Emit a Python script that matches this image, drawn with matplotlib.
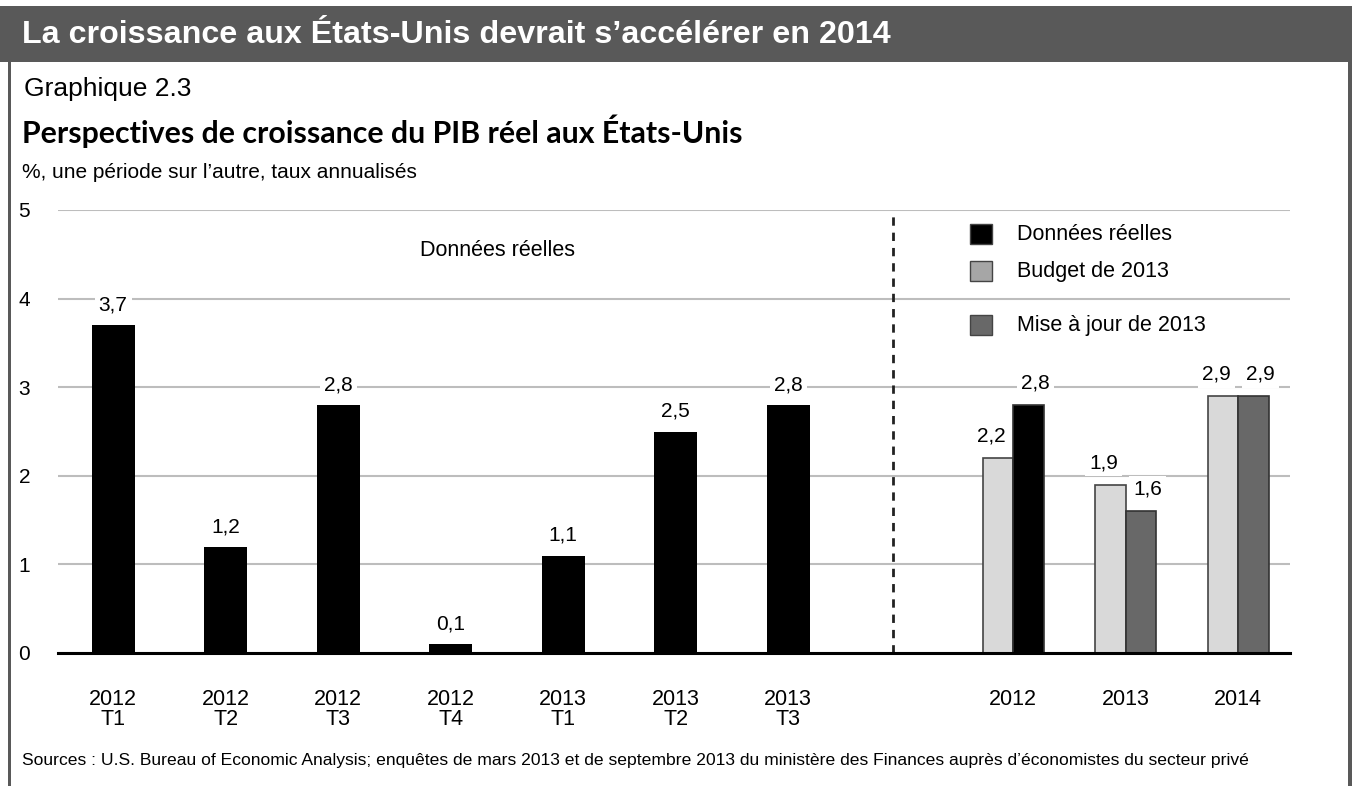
import matplotlib
matplotlib.use("Agg")
import matplotlib.pyplot as plt
from matplotlib.patches import Rectangle
import numpy as np

# data
quarters = ["2012\nT1", "2012\nT2", "2012\nT3", "2012\nT4", "2013\nT1", "2013\nT2", "2013\nT3"]
quarter_values = [3.7, 1.2, 2.8, 0.1, 1.1, 2.5, 2.8]
quarter_labels = ["3,7", "1,2", "2,8", "0,1", "1,1", "2,5", "2,8"]

years = ["2012", "2013", "2014"]
budget_values = [2.2, 1.9, 2.9]
budget_labels = ["2,2", "1,9", "2,9"]
second_values = [2.8, 1.6, 2.9]    # 2012 = real data, 2013/2014 = update
second_labels = ["2,8", "1,6", "2,9"]
second_is_real = [True, False, False]

legend_labels = ["Données réelles", "Budget de 2013", "Mise à jour de 2013"]

FONT = ["Liberation Sans", "DejaVu Sans"]
plt.rcParams["font.family"] = FONT

BLACK = "#000000"
LIGHT = "#d9d9d9"
DARK = "#686868"
BAND = "#595959"

fig = plt.figure(figsize=(13.52, 7.86), dpi=100)
W, H = 1352.0, 786.0

# frame: header band and side borders
fig.patches.append(Rectangle((0, 1 - 62 / H), 1, 56 / H, transform=fig.transFigure,
                             facecolor=BAND, edgecolor="none"))
fig.patches.append(Rectangle((8 / W, 0), 3 / W, 1 - 6 / H, transform=fig.transFigure,
                             facecolor=BAND, edgecolor="none"))
fig.patches.append(Rectangle((1348 / W, 0), 4 / W, 1 - 6 / H, transform=fig.transFigure,
                             facecolor=BAND, edgecolor="none"))

fig.text(22 / W, 1 - 35 / H, "La croissance aux États-Unis devrait s’accélérer en 2014",
         color="white", fontsize=23.2, fontweight="bold", va="center", ha="left")
fig.text(24 / W, 1 - 89 / H, "Graphique 2.3", fontsize=19, va="center", ha="left")
fig.text(22 / W, 1 - 131 / H, "Perspectives de croissance du PIB réel aux États-Unis",
         fontsize=21.8, fontweight="bold", va="center", ha="left",
         family=["Lato", "DejaVu Sans"])
fig.text(22 / W, 1 - 172 / H, "%, une période sur l’autre, taux annualisés",
         fontsize=15, va="center", ha="left")
fig.text(22 / W, 1 - 761 / H,
         "Sources : U.S. Bureau of Economic Analysis; enquêtes de mars 2013 et de septembre 2013 "
         "du ministère des Finances auprès d’économistes du secteur privé",
         fontsize=12.6, va="center", ha="left")

ax = fig.add_axes([58 / W, 1 - 653 / H, 1232 / W, 443 / H])

xq = np.arange(len(quarters))
xa = np.arange(len(years)) + len(quarters) + 1
qw = 0.38
aw = 0.27

ax.bar(xq, quarter_values, width=qw, color=BLACK, zorder=3)
ax.bar(xa - aw / 2, budget_values, width=aw, color=LIGHT, edgecolor="#444444",
       linewidth=1.2, zorder=3)
second_colors = [BLACK if r else DARK for r in second_is_real]
ax.bar(xa + aw / 2, second_values, width=aw, color=second_colors, edgecolor="#333333",
       linewidth=1.2, zorder=3)

lbl = dict(ha="center", va="bottom", fontsize=15, zorder=4,
           bbox=dict(facecolor="white", edgecolor="none", pad=3))
for x, v, s in zip(xq, quarter_values, quarter_labels):
    ax.text(x, v + 0.12, s, **lbl)
for x, v, s in zip(xa - aw / 2, budget_values, budget_labels):
    ax.text(x - 0.06, v + 0.14, s, **lbl)
for x, v, s in zip(xa + aw / 2, second_values, second_labels):
    ax.text(x + 0.06, v + 0.14, s, **lbl)

ax.text(3.42, 4.54, "Données réelles", ha="center", va="center", fontsize=15.5)

# separator between quarterly and annual data
ax.axvline(len(quarters) - 0.07, color="#222222", linestyle=(0, (3, 2.5)),
           linewidth=2, zorder=2)

ax.set_xlim(-0.49, xa[-1] + 0.46)
ax.set_ylim(0, 5)
ax.set_yticks([0, 1, 2, 3, 4, 5])
ax.set_yticklabels(["0", "1", "2", "3", "4", "5"], fontsize=15)
ax.set_xticks(list(xq) + list(xa))
ax.set_xticklabels(quarters + years, fontsize=15.5, va="top", linespacing=0.95)
ax.tick_params(length=0)
ax.tick_params(axis="x", pad=26)
ax.tick_params(axis="y", pad=20)
ax.grid(axis="y", color="#bdbdbd", linewidth=1.5, zorder=0)
for side in ["top", "right", "left"]:
    ax.spines[side].set_visible(False)
ax.spines["bottom"].set_linewidth(2.2)
ax.spines["bottom"].set_zorder(5)

# legend drawn by hand to keep the uneven spacing
legend_colors = [BLACK, "#a6a6a6", DARK]
legend_y = [234, 271, 325]
for c, y, s in zip(legend_colors, legend_y, legend_labels):
    fig.patches.append(Rectangle((970 / W, 1 - (y + 10) / H), 22 / W, 20 / H,
                                 transform=fig.transFigure, facecolor=c,
                                 edgecolor="#444444", linewidth=1, zorder=6))
    fig.text(1017 / W, 1 - y / H, s, fontsize=15.5, va="center", ha="left")

fig.savefig("out.png", dpi=100)
